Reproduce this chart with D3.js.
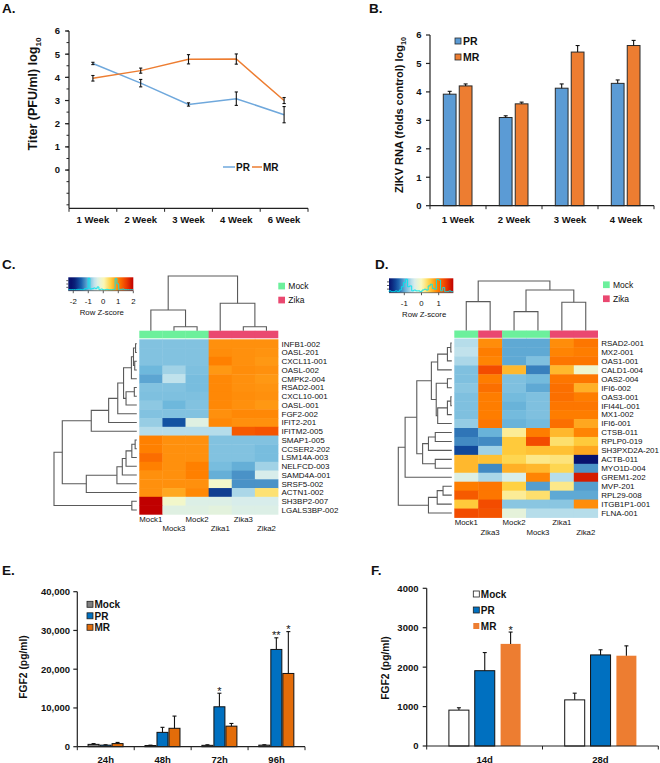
<!DOCTYPE html>
<html><head><meta charset="utf-8">
<script src="https://cdn.jsdelivr.net/npm/d3@7"></script>
<style>body{margin:0;background:#fff} svg{display:block} text{font-family:"Liberation Sans",Arial,Helvetica,sans-serif;fill:#111}</style>
</head><body><svg id="c" width="660" height="763"></svg>
<script>
// ---------------- DATA ----------------
// Panel A: virus titer
const titerWeeks = ["1 Week","2 Week","3 Week","4 Week","6 Week"];
const titerPR    = [4.60, 3.75, 2.83, 3.08, 2.39];
const titerPRerr = [0.05, 0.16, 0.07, 0.29, 0.35];
const titerMR    = [3.96, 4.29, 4.78, 4.79, 3.00];
const titerMRerr = [0.12, 0.11, 0.20, 0.22, 0.13];
const titerTicks = [0,1,2,3,4,5,6];

// Panel B: ZIKV RNA
const rnaWeeks = ["1 Week","2 Week","3 Week","4 Week"];
const rnaSeries = ["PR","MR"];
const rnaPR    = [3.92, 3.10, 4.13, 4.30];
const rnaPRerr = [0.10, 0.06, 0.15, 0.12];
const rnaMR    = [4.21, 3.58, 5.40, 5.63];
const rnaMRerr = [0.07, 0.06, 0.23, 0.18];
const rnaTicks = [0,1,2,3,4,5,6];

// Panel C heatmap
const cSamples = ["Mock1","Mock3","Mock2","Zika1","Zika3","Zika2"];
const cGroups  = ["Mock","Mock","Mock","Zika","Zika","Zika"];
const cGenes = ["INFB1-002","OASL-201","CXCL11-001","OASL-002","CMPK2-004","RSAD2-001","CXCL10-001","OASL-001","FGF2-002","IFIT2-201","IFITM2-005","SMAP1-005","CCSER2-202","LSM14A-003","NELFCD-003","SAMD4A-001","SRSF5-002","ACTN1-002","SH3BP2-007","LGALS3BP-002"];
const cZ = [
 [-0.90,-0.90,-0.90, 0.90, 0.90, 0.90],
 [-0.90,-0.90,-0.90, 0.92, 0.90, 0.88],
 [-0.90,-0.90,-0.90, 1.00, 0.90, 0.85],
 [-1.00,-0.75,-0.92, 0.85, 0.92, 0.90],
 [-1.10,-0.60,-0.95, 0.95, 0.90, 0.85],
 [-0.90,-0.90,-0.95, 0.95, 0.90, 0.88],
 [-0.92,-0.92,-0.92, 0.95, 0.92, 0.90],
 [-0.85,-1.00,-0.90, 0.95, 0.90, 0.85],
 [-0.90,-0.90,-0.90, 0.90, 0.95, 0.95],
 [-0.80,-1.55,-0.35, 0.95, 0.90, 0.90],
 [-0.65,-0.65,-0.65,-0.65, 1.30, 1.35],
 [ 1.00, 0.90, 0.90,-0.90,-0.90,-0.90],
 [ 1.00, 0.90, 0.90,-0.90,-0.90,-0.95],
 [ 1.15, 0.90, 0.90,-0.90,-0.90,-0.95],
 [ 1.00, 0.90, 1.00,-0.95,-1.05,-0.75],
 [ 0.90, 0.90, 1.00,-1.05,-1.20,-0.45],
 [ 0.90, 0.90, 0.90,-0.10,-1.20,-1.20],
 [ 0.90, 0.75, 0.95,-1.70,-0.70, 0.30],
 [ 2.04,-0.10,-0.40,-0.40,-0.45,-0.45],
 [ 2.04,-0.35,-0.35,-0.30,-0.40,-0.40]
];
// hclust-style merges: [left, right, height]; negative = leaf (1-based), positive = earlier merge
const cRowMerges = [[-1,-2,0.15],[-3,-4,0.25],[1,2,0.4],[3,-5,0.65],[-6,-7,0.3],[5,-8,1.3],[4,6,1.6],[7,-9,2.3],[8,-10,3.4],[9,-11,5.5],
 [-12,-13,0.2],[11,-14,0.6],[12,-15,1.3],[13,-16,1.75],[14,-17,2.4],[15,-18,6.1],[10,16,9.0],[-19,-20,0.6],[17,18,10]];
const cColMerges = [[-2,-3,4],[-5,-6,4],[-1,1,20.7],[-4,2,27.4],[3,4,54.7]];
const cKeyTicks = [-2,-1,0,1,2];

// Panel D heatmap
const dSamples = ["Mock1","Zika3","Mock2","Mock3","Zika1","Zika2"];
const dGroups  = ["Mock","Zika","Mock","Mock","Zika","Zika"];
const dGenes = ["RSAD2-001","MX2-001","OAS1-001","CALD1-004","OAS2-004","IFI6-002","OAS3-001","IFI44L-001","MX1-002","IFI6-001","CTSB-011","RPLP0-019","SH3PXD2A-201","ACTB-011","MYO1D-004","GREM1-202","MVP-201","RPL29-008","ITGB1P1-001","FLNA-001"];
const dZ = [
 [-0.60, 0.85,-1.00,-1.00, 0.85, 1.00],
 [-0.55, 0.95,-1.00,-1.00, 0.90, 0.95],
 [-0.65, 0.90,-1.00,-0.85, 1.00, 1.00],
 [-0.85, 1.30, 0.60,-1.20, 0.60,-0.15],
 [-0.85, 0.95,-0.85,-0.90, 1.00, 1.00],
 [-0.80, 1.05,-0.85,-1.00, 1.05, 0.65],
 [-0.85, 0.95,-0.90,-0.85, 1.05, 0.95],
 [-0.85, 0.95,-0.95,-0.85, 1.00, 1.00],
 [-0.85, 0.95,-0.90,-0.85, 0.95, 0.95],
 [-0.75, 1.00,-0.95,-0.90, 1.05, 0.70],
 [-1.25,-0.95, 0.15, 0.95, 0.60, 0.90],
 [-1.15,-1.15, 0.50, 1.30, 0.30, 0.50],
 [-1.50,-0.70, 0.50, 0.55, 0.55, 0.70],
 [ 0.60, 0.55, 0.40, 0.20, 0.25,-1.85],
 [ 0.60,-1.15, 0.65, 0.60, 0.40,-1.10],
 [-0.35,-0.65,-0.40, 0.90,-0.60, 1.65],
 [ 0.95, 1.00, 0.45,-1.05, 0.20,-1.05],
 [ 1.20, 1.00, 0.15, 0.30,-1.00,-1.00],
 [ 0.50, 1.30,-0.80,-0.80,-0.80, 0.85],
 [ 1.30, 1.25,-0.25,-0.60,-0.60,-0.60]
];
const dRowMerges = [[-1,-2,0.1],[1,-3,0.45],[2,-4,1.45],[-5,-6,0.45],[-7,-8,0.1],[5,-9,0.45],[6,-10,1.45],[4,7,1.6],[3,8,2.1],
 [-11,-12,1.7],[10,-13,2.4],[-14,-15,1.7],[11,12,3.0],[9,13,3.6],[14,-16,4.8],[-17,-18,0.9],[16,-19,1.5],[17,-20,2.4],[15,18,5.5]];
const dColMerges = [[-1,-2,29],[-3,-4,19],[-5,-6,28.4],[2,3,40.7],[1,4,49.7]];
const dKeyTicks = [-1,0,1];

// Panel E: FGF2 in vitro
const fgfHours = ["24h","48h","72h","96h"];
const fgfSeries = ["Mock","PR","MR"];
const eMock    = [600, 300, 350, 400];
const eMockErr = [200, 100, 150, 100];
const ePR      = [400, 3700, 10300, 25100];
const ePRerr   = [100, 1300, 3500, 3000];
const eMR      = [800, 4750, 5300, 18900];
const eMRerr   = [300, 3150, 700, 10800];
const eTicks   = [0,10000,20000,30000,40000];
const eSig = [{cat:"72h",ser:"PR",mark:"*"},{cat:"96h",ser:"PR",mark:"**"},{cat:"96h",ser:"MR",mark:"*"}];

// Panel F: FGF2 in vivo
const fgfDays = ["14d","28d"];
const fMock    = [910, 1170];
const fMockErr = [60, 170];
const fPR      = [1910, 2310];
const fPRerr   = [460, 130];
const fMR      = [2590, 2290];
const fMRerr   = [300, 250];
const fTicks   = [0,1000,2000,3000,4000];
const fSig = [{cat:"14d",ser:"MR",mark:"*"}];

// ---------------- DRAWING ----------------
const svg = d3.select("#c");
const BOLD = "bold";

function panelLabel(t,x,y){ svg.append("text").attr("x",x).attr("y",y).attr("font-size",13.5).attr("font-weight",BOLD).text(t); }
panelLabel("A.",2,12.5); panelLabel("B.",369,12.5); panelLabel("C.",2,268.5); panelLabel("D.",375,268.5); panelLabel("E.",2,574.5); panelLabel("F.",371,574.5);

function yLabel(g, x, y, main, sub, size){
  const t = g.append("text").attr("transform",`translate(${x},${y}) rotate(-90)`).attr("text-anchor","middle")
    .attr("font-size",size).attr("font-weight",BOLD);
  t.append("tspan").text(main);
  if(sub) t.append("tspan").attr("font-size",size*0.65).attr("dy",size*0.3).text(sub);
}
function line(g,x1,y1,x2,y2,stroke,w){ g.append("line").attr("x1",x1).attr("y1",y1).attr("x2",x2).attr("y2",y2).attr("stroke",stroke||"#111").attr("stroke-width",w||1); }

// ---- Panel A ----
{
  const g = svg.append("g");
  const x = d3.scaleBand().domain(titerWeeks).range([69,308]);
  const y = d3.scaleLinear().domain([-1.65,6]).range([208.3,31]);
  const cx = d => x(d)+x.bandwidth()/2;
  line(g,69,y(6),69,y(-1.65),"#222",1.2);
  line(g,69,y(-1.65),308,y(-1.65),"#222",1.2);
  d3.range(-1.5,6.01,0.5).forEach(v=>line(g,66.5,y(v),69,y(v),"#222",1));
  titerTicks.forEach(v=>{
    line(g,65,y(v),69,y(v),"#222",1.2);
    g.append("text").attr("x",60).attr("y",y(v)+3.4).attr("text-anchor","end").attr("font-size",9.5).attr("font-weight",BOLD).text(v);
  });
  titerWeeks.forEach(w=>{ line(g,x(w),y(-1.65),x(w),y(-1.65)+3.5,"#222",1); });
  line(g,308,y(-1.65),308,y(-1.65)+3.5,"#222",1);
  titerWeeks.forEach(w=>g.append("text").attr("x",cx(w)).attr("y",222.5).attr("text-anchor","middle").attr("font-size",9.5).attr("font-weight",BOLD).text(w));
  yLabel(g,37,94,"Titer (PFU/ml) log","10",12.5);
  const series = [{v:titerPR,e:titerPRerr,c:"#6fa8dc"},{v:titerMR,e:titerMRerr,c:"#ed7d31"}];
  series.forEach(s=>{
    g.append("path").attr("d",d3.line().x((d,i)=>cx(titerWeeks[i])).y(d=>y(d))(s.v)).attr("fill","none").attr("stroke",s.c).attr("stroke-width",1.5);
  });
  series.forEach(s=>{
    s.v.forEach((v,i)=>{
      const X=cx(titerWeeks[i]);
      line(g,X,y(v-s.e[i]),X,y(v+s.e[i]),"#111",1.1);
      line(g,X-1.6,y(v-s.e[i]),X+1.6,y(v-s.e[i]),"#111",1.1);
      line(g,X-1.6,y(v+s.e[i]),X+1.6,y(v+s.e[i]),"#111",1.1);
    });
  });
  // legend
  line(g,223,167,235,167,"#6fa8dc",1.5);
  g.append("text").attr("x",236).attr("y",170.5).attr("font-size",10).attr("font-weight",BOLD).text("PR");
  line(g,252,167,262,167,"#ed7d31",1.5);
  g.append("text").attr("x",263).attr("y",170.5).attr("font-size",10).attr("font-weight",BOLD).text("MR");
}

// ---- Panel B ----
{
  const g = svg.append("g");
  const x = d3.scaleBand().domain(rnaWeeks).range([430,654]);
  const inner = d3.scaleBand().domain(rnaSeries).range([-14.7,14]).paddingInner(0.2);
  const y = d3.scaleLinear().domain([0,6]).range([205.7,35]);
  const cx = d => x(d)+x.bandwidth()/2;
  const cols = {PR:"#5b9bd5", MR:"#ed7d31"};
  const vals = {PR:[rnaPR,rnaPRerr], MR:[rnaMR,rnaMRerr]};
  rnaSeries.forEach(s=>{
    rnaWeeks.forEach((w,i)=>{
      const v=vals[s][0][i], e=vals[s][1][i];
      const X = cx(w)+inner(s);
      g.append("rect").attr("x",X).attr("y",y(v)).attr("width",inner.bandwidth()).attr("height",y(0)-y(v))
        .attr("fill",cols[s]).attr("stroke","#2a2a2a").attr("stroke-width",1);
      const m = X+inner.bandwidth()/2;
      line(g,m,y(v),m,y(v+e),"#111",1.1);
      line(g,m-2,y(v+e),m+2,y(v+e),"#111",1.1);
    });
  });
  line(g,430,y(6),430,y(0),"#222",1.2);
  line(g,430,y(0),654,y(0),"#222",1.2);
  rnaTicks.forEach(v=>{
    line(g,426,y(v),430,y(v),"#222",1.2);
    g.append("text").attr("x",421.5).attr("y",y(v)+3.4).attr("text-anchor","end").attr("font-size",9.5).attr("font-weight",BOLD).text(v);
  });
  rnaWeeks.forEach(w=>line(g,x(w),y(0),x(w),y(0)+3.5,"#222",1));
  line(g,654,y(0),654,y(0)+3.5,"#222",1);
  rnaWeeks.forEach(w=>g.append("text").attr("x",cx(w)).attr("y",222.5).attr("text-anchor","middle").attr("font-size",9.5).attr("font-weight",BOLD).text(w));
  yLabel(g,403,115,"ZIKV RNA (folds control) log","10",11);
  rnaSeries.forEach((s,i)=>{
    const yy = 41+i*16;
    g.append("rect").attr("x",455).attr("y",yy-3).attr("width",6).attr("height",6).attr("fill",cols[s]).attr("stroke","#2a2a2a").attr("stroke-width",0.8);
    g.append("text").attr("x",463).attr("y",yy+3.8).attr("font-size",10.5).attr("font-weight",BOLD).text(s);
  });
}

// ---- Heatmaps ----
const heatColors = ["#08126e","#1459a8","#6eb8dc","#d4ecf0","#fafac0","#ffd040","#ff8000","#f04000","#c00000"];
const groupColor = {Mock:"#6cf09c", Zika:"#ea4870"};

function dendro(g, merges, leafPos, hScale, orient){
  const pos=[], ht=[];
  const P = i => i<0 ? leafPos(-i-1) : pos[i-1];
  const H = i => i<0 ? 0 : ht[i-1];
  merges.forEach(([a,b,h],k)=>{
    const pa=P(a), pb=P(b), ha=H(a), hb=H(b);
    pos[k]=(pa+pb)/2; ht[k]=h;
    const d = orient==="row"
      ? `M${hScale(ha)},${pa}H${hScale(h)}V${pb}H${hScale(hb)}`
      : `M${pa},${hScale(ha)}V${hScale(h)}H${pb}V${hScale(hb)}`;
    g.append("path").attr("d",d).attr("fill","none").attr("stroke","#5a5a5a").attr("stroke-width",1.1);
  });
}

function heatmap(o){
  const g = svg.append("g");
  const stops = d3.range(9).map(i=>(-2+i*0.5)*o.keyFactor);
  const color = d3.scaleLinear().domain(stops).range(heatColors).clamp(true);
  const xs = d3.scaleBand().domain(d3.range(o.samples.length)).range([o.x0,o.x1]);
  const ys = d3.scaleBand().domain(d3.range(o.genes.length)).range([o.y0,o.y1]);
  o.z.forEach((row,r)=>row.forEach((v,c)=>{
    g.append("rect").attr("x",xs(c)).attr("y",ys(r)).attr("width",xs.bandwidth()+0.4).attr("height",ys.bandwidth()+0.4).attr("fill",color(v));
  }));
  o.groups.forEach((gr,c)=>g.append("rect").attr("x",xs(c)).attr("y",o.barTop).attr("width",xs.bandwidth()+0.3).attr("height",o.barH).attr("fill",groupColor[gr]));
  o.genes.forEach((gn,r)=>g.append("text").attr("x",o.x1+3.5).attr("y",ys(r)+ys.bandwidth()/2+2.9).attr("font-size",8).text(gn));
  o.samples.forEach((s,c)=>g.append("text").attr("x",xs(c)+xs.bandwidth()/2).attr("y",c%2===0?o.lab1:o.lab2)
     .attr("text-anchor","middle").attr("font-size",7.8).text(s));
  const rowH = d3.scaleLinear().domain([0,d3.max(o.rowMerges,d=>d[2])]).range([o.x0-2.5,o.rootX]);
  dendro(g,o.rowMerges,i=>ys(i)+ys.bandwidth()/2,rowH,"row");
  const colH = d3.scaleLinear().domain([0,d3.max(o.colMerges,d=>d[2])]).range([o.barTop,o.topY]);
  dendro(g,o.colMerges,i=>xs(i)+xs.bandwidth()/2,colH,"col");
  // color key
  const k = o.key;
  const kx = d3.scaleLinear().domain(k.domain).range([k.x0,k.x1]);
  const gid = "grad"+o.id;
  const grad = svg.append("defs").append("linearGradient").attr("id",gid).attr("x1","0").attr("x2","1").attr("y1","0").attr("y2","0");
  d3.range(0,1.0001,0.05).forEach(t=>{
    const v = k.domain[0]+t*(k.domain[1]-k.domain[0]);
    grad.append("stop").attr("offset",t).attr("stop-color",color(v));
  });
  g.append("rect").attr("x",k.x0).attr("y",k.y0).attr("width",k.x1-k.x0).attr("height",k.y1-k.y0).attr("fill",`url(#${gid})`);
  // histogram of values (density info)
  const flat = o.z.flat();
  const bins = d3.bin().domain(k.domain).thresholds(d3.range(k.domain[0],k.domain[1],0.12))(flat);
  const hy = d3.scaleLinear().domain([0,d3.max(bins,b=>b.length)]).range([k.y1-1,k.y0+1]);
  let p = `M${kx(bins[0].x0)},${hy(0)}`;
  bins.forEach(b=>{ p += `V${hy(b.length)}H${kx(b.x1)}`; });
  p += `V${hy(0)}`;
  g.append("path").attr("d",p).attr("fill","none").attr("stroke","#00e5ee").attr("stroke-width",0.9);
  [0.25,0.5,0.75].forEach(t=>line(g,k.x0-2,k.y0+t*(k.y1-k.y0),k.x0,k.y0+t*(k.y1-k.y0),"#333",0.8));
  line(g,k.x0,k.y1,k.x1,k.y1,"#333",0.6);
  k.ticks.forEach(v=>{
    line(g,kx(v),k.y1,kx(v),k.y1+2.5,"#333",0.8);
    g.append("text").attr("x",kx(v)).attr("y",k.y1+13.3).attr("text-anchor","middle").attr("font-size",7.8).text(v);
  });
  g.append("text").attr("x",(k.x0+k.x1)/2 + (o.id==="C"?1:3)).attr("y",k.y1+24.5).attr("text-anchor","middle").attr("font-size",7.8).text("Row Z-score");
  // group legend
  ["Mock","Zika"].forEach((gr,i)=>{
    const yy = o.legY + i*14;
    g.append("rect").attr("x",o.legX).attr("y",yy-3.3).attr("width",6.7).attr("height",6.7).attr("fill",groupColor[gr]);
    g.append("text").attr("x",o.legX+10).attr("y",yy+3).attr("font-size",8.5).text(gr);
  });
}

heatmap({id:"C", samples:cSamples, groups:cGroups, genes:cGenes, z:cZ, rowMerges:cRowMerges, colMerges:cColMerges,
  x0:139.3, x1:278, y0:339.3, y1:514.3, barTop:330.7, barH:7.6, topY:276, rootX:54, lab1:522, lab2:531,
  keyFactor:1, key:{domain:[-2.33,2], x0:68.3, x1:133.3, y0:277.3, y1:290.7, ticks:cKeyTicks}, legX:278.3, legY:286});
heatmap({id:"D", samples:dSamples, groups:dGroups, genes:dGenes, z:dZ, rowMerges:dRowMerges, colMerges:dColMerges,
  x0:454.3, x1:597.7, y0:338.5, y1:517.5, barTop:330.5, barH:7.3, topY:281, rootX:398.3, lab1:525, lab2:535,
  keyFactor:0.925, key:{domain:[-1.89,1.85], x0:389, x1:453.3, y0:278.3, y1:292.7, ticks:dKeyTicks}, legX:603, legY:284.7});

// ---- Bar panels E & F ----
function barPanel(o){
  const g = svg.append("g");
  const x = d3.scaleBand().domain(o.cats).range([o.xa,o.xb]);
  const inner = d3.scaleBand().domain(fgfSeries).range(o.inner).paddingInner(o.pad);
  const y = d3.scaleLinear().domain(o.domain).range([o.y0,o.y1]);
  const cx = d => x(d)+x.bandwidth()/2;
  const tops = {};
  fgfSeries.forEach(s=>{
    o.cats.forEach((c,i)=>{
      const v=o.vals[s][0][i], e=o.vals[s][1][i];
      const X = cx(c)+inner(s);
      g.append("rect").attr("x",X).attr("y",y(v)).attr("width",inner.bandwidth()).attr("height",y(0)-y(v))
        .attr("fill",o.cols[s]).attr("stroke",o.strokes[s]).attr("stroke-width",1);
      const m = X+inner.bandwidth()/2;
      line(g,m,y(v),m,y(v+e),"#111",1.1);
      line(g,m-2,y(v+e),m+2,y(v+e),"#111",1.1);
      tops[c+s] = [m,y(v+e)];
    });
  });
  o.sig.forEach(d=>{
    const [m,t] = tops[d.cat+d.ser];
    g.append("text").attr("x",m).attr("y",t+1.5).attr("text-anchor","middle").attr("font-size",11).text(d.mark);
  });
  line(g,o.xa,o.y1,o.xa,o.y0,"#222",1.2);
  line(g,o.xa,o.y0,o.xb,o.y0,"#222",1.2);
  o.ticks.forEach(v=>{
    line(g,o.xa-4,y(v),o.xa,y(v),"#222",1.2);
    g.append("text").attr("x",o.labX).attr("y",y(v)+3.4).attr("text-anchor","end").attr("font-size",9.5).attr("font-weight",BOLD).text(o.fmt(v));
  });
  o.cats.forEach(c=>line(g,x(c),o.y0,x(c),o.y0+3.5,"#222",1));
  line(g,o.xb,o.y0,o.xb,o.y0+3.5,"#222",1);
  o.cats.forEach(c=>g.append("text").attr("x",cx(c)).attr("y",762.5).attr("text-anchor","middle").attr("font-size",9.5).attr("font-weight",BOLD).text(c));
  yLabel(g,o.ylx,o.yly,"FGF2 (pg/ml)",null,10.3);
  fgfSeries.forEach((s,i)=>{
    const yy = o.legY + i*o.legStep;
    g.append("rect").attr("x",o.legX).attr("y",yy-3).attr("width",6).attr("height",6).attr("fill",o.cols[s]).attr("stroke",o.strokes[s]==="none"?"none":"#222").attr("stroke-width",0.8);
    g.append("text").attr("x",o.legX+7.5).attr("y",yy+3.7).attr("font-size",10).attr("font-weight",BOLD).text(s);
  });
}
barPanel({cats:fgfHours, xa:77.3, xb:305, inner:[-17.7,17.3], pad:0.083, domain:[0,40000], y0:746.7, y1:591.7,
  vals:{Mock:[eMock,eMockErr], PR:[ePR,ePRerr], MR:[eMR,eMRerr]},
  cols:{Mock:"#7f7f7f", PR:"#0070c0", MR:"#e36c09"}, strokes:{Mock:"#111",PR:"#111",MR:"#111"},
  ticks:eTicks, fmt:d3.format(","), labX:70, sig:eSig, ylx:26.5, yly:667, legX:87, legY:604.3, legStep:11.5});
barPanel({cats:fgfDays, xa:426.7, xb:658.3, inner:[-35.7,36], pad:0.226, domain:[0,4000], y0:746, y1:588.3,
  vals:{Mock:[fMock,fMockErr], PR:[fPR,fPRerr], MR:[fMR,fMRerr]},
  cols:{Mock:"#ffffff", PR:"#0070c0", MR:"#ed7d31"}, strokes:{Mock:"#111",PR:"#111",MR:"none"},
  ticks:fTicks, fmt:d3.format("d"), labX:418.5, sig:fSig, ylx:388.5, yly:668, legX:473.3, legY:594, legStep:16});
</script></body></html>
